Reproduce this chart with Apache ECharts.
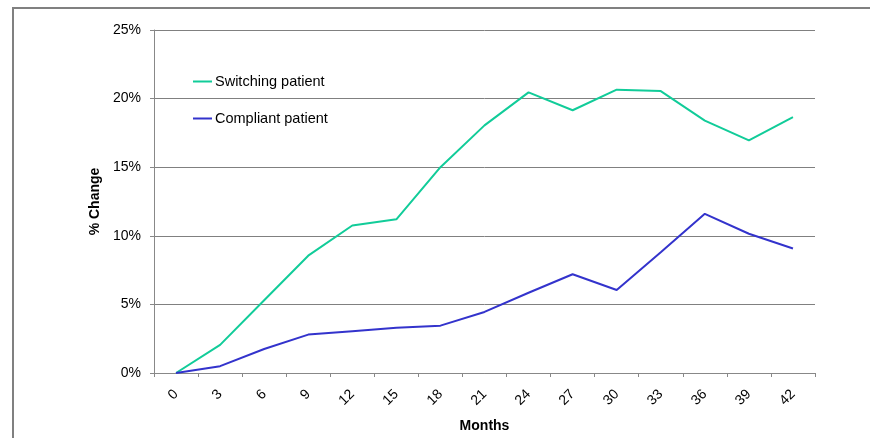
<!DOCTYPE html>
<html>
<head>
<meta charset="utf-8">
<script src="https://cdn.jsdelivr.net/npm/echarts@6/dist/echarts.min.js"></script>
<style>
  html, body { margin: 0; padding: 0; background: #fff; }
  #chart { width: 870px; height: 438px; }
</style>
</head>
<body>
<div id="chart"></div>
<script>
// months since start
const months = ['0', '3', '6', '9', '12', '15', '18', '21', '24', '27', '30', '33', '36', '39', '42'];
// % change
const switching = [0, 2.05, 5.3, 8.55, 10.75, 11.2, 15.0, 18.05, 20.45, 19.15, 20.65, 20.55, 18.4, 16.95, 18.65];
const compliant = [0, 0.5, 1.75, 2.8, 3.05, 3.3, 3.45, 4.45, 5.85, 7.2, 6.05, 8.8, 11.6, 10.15, 9.07];

const chart = echarts.init(document.getElementById('chart'));
const font = 'Liberation Sans, Arial, sans-serif';

chart.setOption({
    animation: false,
    textStyle: { fontFamily: font },
    graphic: [{
        type: 'rect',
        shape: { x: 13, y: 8, width: 900, height: 500 },
        style: { fill: 'none', stroke: '#808080', lineWidth: 2 }
    }],
    grid: { left: 154, right: 55, top: 30, bottom: 65, outerBoundsMode: 'none', containLabel: false },
    legend: {
        orient: 'vertical',
        left: 193,
        top: 74,
        padding: 0,
        itemGap: 22,
        icon: 'rect',
        itemWidth: 19,
        itemHeight: 2,
        textStyle: { fontSize: 14.5, color: '#000', fontFamily: font, padding: [0, 0, 0, -2] },
        data: ['Switching patient', 'Compliant patient']
    },
    xAxis: {
        type: 'category',
        data: months,
        boundaryGap: true,
        name: 'Months',
        nameLocation: 'middle',
        nameGap: 46,
        nameTextStyle: { fontSize: 14, fontWeight: 'bold', color: '#000' },
        axisLine: { lineStyle: { color: '#888', width: 1 } },
        axisTick: { show: true, length: 4, lineStyle: { color: '#888' } },
        axisLabel: { rotate: 45, fontSize: 14, color: '#000', margin: 19, interval: 0 }
    },
    yAxis: {
        type: 'value',
        min: 0,
        max: 25,
        interval: 5,
        name: '% Change',
        nameLocation: 'middle',
        nameGap: 50,
        nameTextStyle: { fontSize: 14, fontWeight: 'bold', color: '#000' },
        axisLine: { show: true, lineStyle: { color: '#888', width: 1 } },
        axisTick: { show: true, length: 4, lineStyle: { color: '#888' } },
        axisLabel: { formatter: '{value}%', fontSize: 14, color: '#000', margin: 13 },
        splitLine: { lineStyle: { color: '#808080', width: 1 } }
    },
    series: [
        {
            name: 'Switching patient',
            type: 'line',
            data: switching,
            symbol: 'none',
            itemStyle: { color: '#11cc99' },
            lineStyle: { color: '#11cc99', width: 2 }
        },
        {
            name: 'Compliant patient',
            type: 'line',
            data: compliant,
            symbol: 'none',
            itemStyle: { color: '#3333cc' },
            lineStyle: { color: '#3333cc', width: 2 }
        }
    ]
});
</script>
</body>
</html>
